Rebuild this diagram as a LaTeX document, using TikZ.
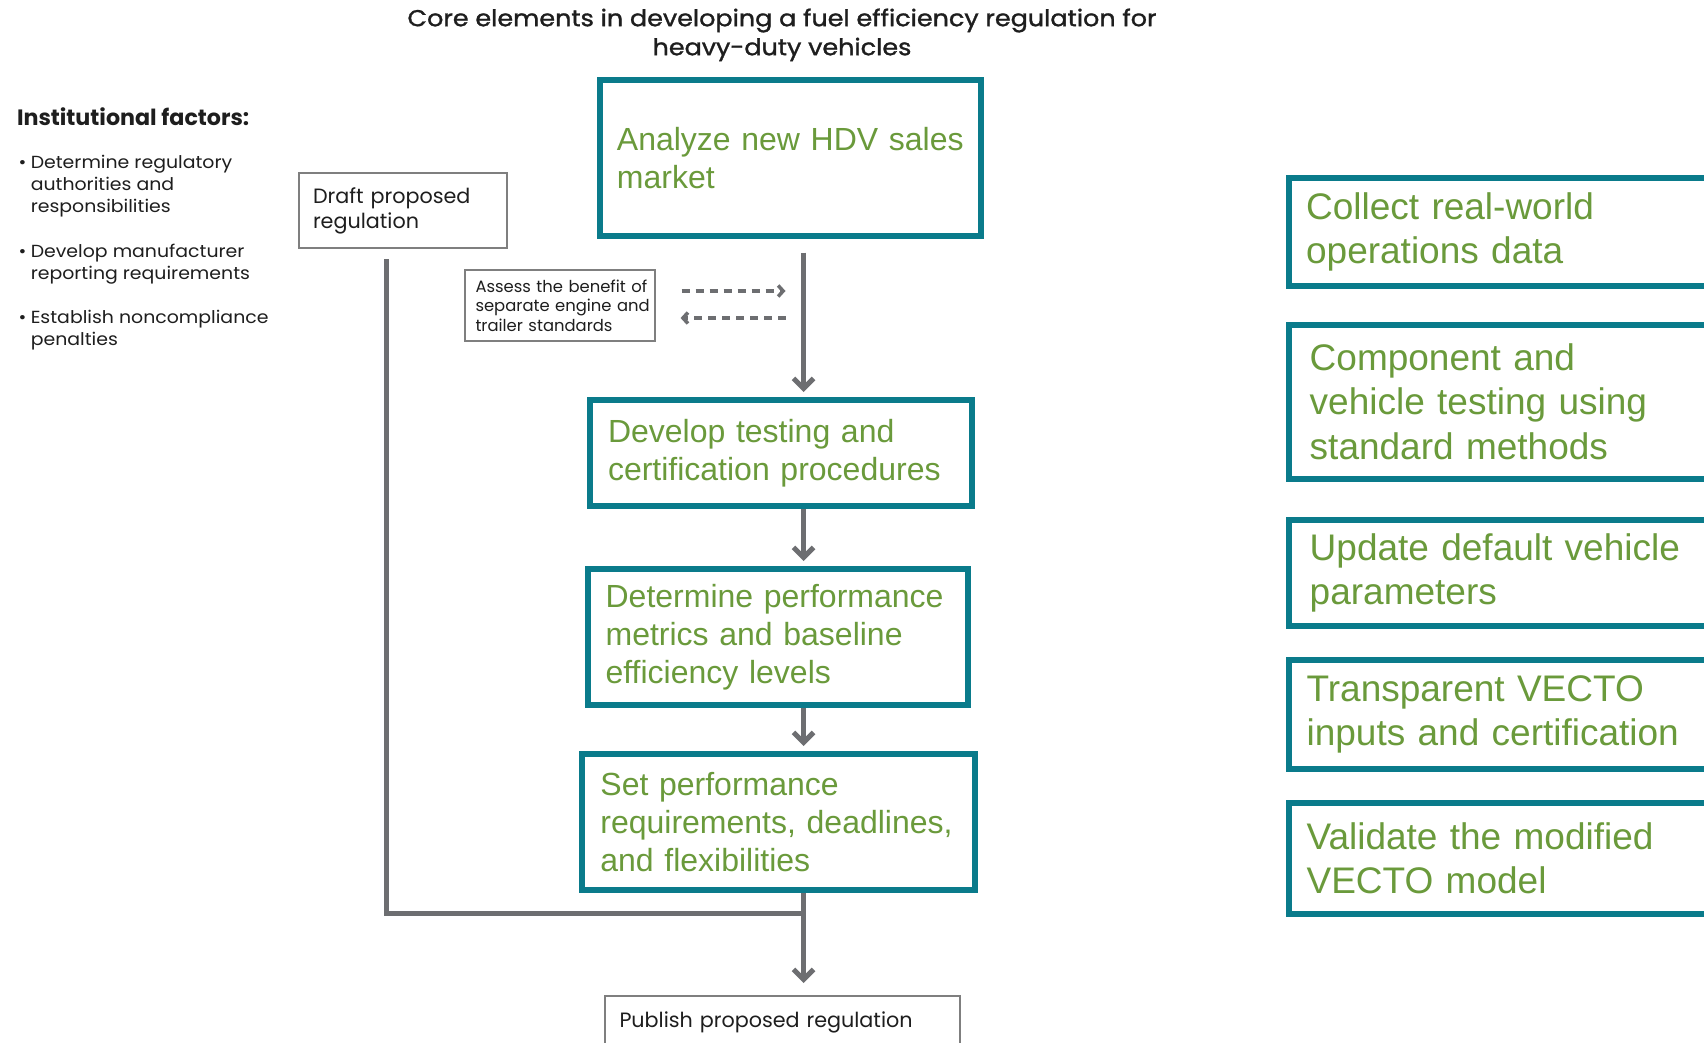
\documentclass[tikz,border=0pt]{standalone}
\usepackage{fontspec}
\setmainfont{Liberation Sans}
\newfontfamily\afont{Liberation Sans}
\newfontfamily\gfont{Poppins}
\newfontfamily\gwide[FakeStretch=1.08]{Poppins}
\newfontfamily\gtitle[FakeStretch=1.105,FakeBold=1.3]{Poppins}
\usetikzlibrary{arrows.meta,calc}
\definecolor{icteal}{HTML}{0A7B8B}
\definecolor{icgreen}{HTML}{6A9A3B}
\definecolor{icgray}{HTML}{6D6E71}
\definecolor{icthin}{HTML}{7F7F7F}
\definecolor{ictext}{HTML}{1E1E1E}
\newcommand{\pd}[1]{\hspace*{#1pt}}
\begin{document}
\begin{tikzpicture}[x=1pt,y=-1pt,
  flowbox/.style={draw=icteal, line width=6pt, fill=white, text=icgreen,
    font=\afont\fontsize{32}{38}\selectfont, align=left, anchor=north west, inner sep=0pt},
  sidebox/.style={draw=icteal, line width=6pt, fill=white, text=icgreen,
    font=\afont\fontsize{37}{44.5}\selectfont, align=left, anchor=north west, inner sep=0pt,
    text width=520pt, minimum width=520pt},
  thinbox/.style={draw=icthin, line width=2pt, fill=white, text=ictext,
    align=left, anchor=north west, inner sep=0pt},
  flowline/.style={draw=icgray, line width=5pt},
  flowarrow/.style={flowline, -{Straight Barb[length=10pt,width=20pt]}},
  dasharrow/.style={draw=icgray, line width=3.5pt, dash pattern=on 8pt off 6pt,
    -{Straight Barb[length=5pt,width=11pt]}}
]
\useasboundingbox (0,0) rectangle (1704,1043);
\fill[white] (0,0) rectangle (1704,1043);
\clip (0,0) rectangle (1704,1043);

% title
\node[anchor=north, inner sep=0pt, align=center, text=ictext,
  font=\gtitle\fontsize{23}{29}\selectfont] (title) at (782,8)
  {\rule{0pt}{18pt}Core elements in developing a fuel efficiency regulation for\\heavy-duty vehicles};

% institutional factors
\node[anchor=north west, inner sep=0pt, align=left, text=ictext,
  font=\gwide\fontsize{17.5}{22}\selectfont] (inst) at (16.8,108)
  {\rule{0pt}{17pt}{\gfont\bfseries\fontsize{22.2}{22}\selectfont Institutional factors:}\\[21pt]
   \makebox[13.8pt][l]{\hspace{1.5pt}\textbullet}Determine regulatory\\
   \hspace*{13.8pt}authorities and\\
   \hspace*{13.8pt}responsibilities\\[23pt]
   \makebox[13.8pt][l]{\hspace{1.5pt}\textbullet}Develop manufacturer\\
   \hspace*{13.8pt}reporting requirements\\[22pt]
   \makebox[13.8pt][l]{\hspace{1.5pt}\textbullet}Establish noncompliance\\
   \hspace*{13.8pt}penalties};

% flow boxes
\node[flowbox, text width=381pt, minimum width=381pt, minimum height=155.5pt] (analyze) at (596.5,77)
  {\pd{17.4}Analyze new HDV sales\\ \pd{17.4}market};
\node[flowbox, text width=381.3pt, minimum width=381.3pt, minimum height=105.5pt] (develop) at (587.2,397)
  {\pd{17.8}Develop testing and\\ \pd{17.8}certification procedures};
\node[flowbox, text width=380.5pt, minimum width=380.5pt, minimum height=135.5pt] (determine) at (584.9,566)
  {\pd{17.7}Determine performance\\ \pd{17.7}metrics and baseline\\ \pd{17.7}efficiency levels};
\node[flowbox, text width=393.5pt, minimum width=393.5pt, minimum height=135.5pt] (setreq) at (578.8,751)
  {\pd{18.6}Set performance\\ \pd{18.6}requirements, deadlines,\\ \pd{18.6}and flexibilities};

% thin boxes
\node[thinbox, font=\gfont\fontsize{20.7}{25}\selectfont, text width=208.5pt, minimum width=208.5pt,
  minimum height=75.6pt] (draft) at (297.5,171.7)
  {\pd{14.5}Draft proposed\\ \pd{14.5}regulation};
\node[thinbox, font=\gfont\fontsize{16.4}{19.5}\selectfont, text width=190.1pt, minimum width=190.1pt,
  minimum height=70.4pt] (assess) at (463.5,269.3)
  {\pd{11}Assess the benefit of\\ \pd{11}separate engine and\\ \pd{11}trailer standards};
\node[thinbox, font=\gfont\fontsize{20.7}{25}\selectfont, text width=354.6pt, minimum width=354.6pt,
  minimum height=53.6pt] (publish) at (604,995)
  {\pd{14.5}Publish proposed regulation};

% side boxes
\node[sidebox, minimum height=107.5pt] (collect) at (1285.5,175)
  {\pd{17.6}Collect real-world\\ \pd{17.6}operations data};
\node[sidebox, minimum height=153.5pt] (component) at (1285.5,322)
  {\pd{21.2}Component and\\ \pd{21.2}vehicle testing using\\ \pd{21.2}standard methods};
\node[sidebox, minimum height=105.5pt] (update) at (1285.5,517)
  {\pd{21.2}Update default vehicle\\ \pd{21.2}parameters};
\node[sidebox, minimum height=108.5pt] (transparent) at (1285.5,657)
  {\pd{18.1}Transparent VECTO\\ \pd{18.1}inputs and certification};
\node[sidebox, minimum height=110.5pt] (validate) at (1285.5,800)
  {\pd{18.1}Validate the modified\\ \pd{18.1}VECTO model};

% connectors
\coordinate (spine) at (803.5,0);
\coordinate (joinL) at (386.5,913);
\coordinate (joinR) at (joinL -| spine);

\draw[flowarrow] ($(analyze.south -| spine)+(0,14)$) -- ($(develop.north -| spine)+(0,-5)$);
\draw[flowarrow] (develop.south -| spine) -- ($(determine.north -| spine)+(0,-5)$);
\draw[flowarrow] (determine.south -| spine) -- ($(setreq.north -| spine)+(0,-5)$);
\draw[flowarrow] (setreq.south -| spine) -- ($(publish.north -| spine)+(0,-12)$);
\draw[flowline] ($(draft.south -| joinL)+(0,10)$) |- (joinR);

\draw[dasharrow] ($(assess.east)+(26,-14.5)$) -- ($(assess.east -| spine)+(-18,-14.5)$);
\draw[dasharrow] ($(assess.east -| spine)+(-18,12.5)$) -- ($(assess.east)+(25,12.5)$);
\end{tikzpicture}
\end{document}
